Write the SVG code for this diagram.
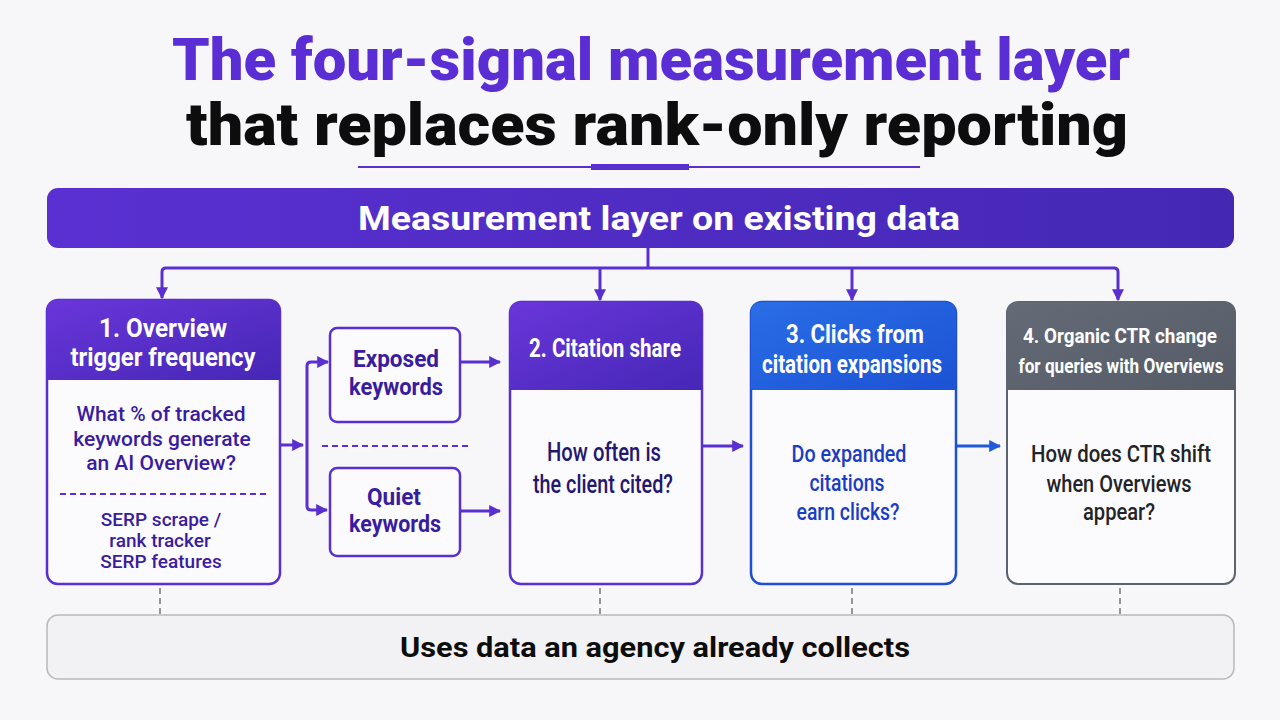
<svg xmlns="http://www.w3.org/2000/svg" width="1280" height="720" viewBox="0 0 1280 720">
<defs>
<linearGradient id="gPurple" x1="0" y1="0" x2="1" y2="1"><stop offset="0" stop-color="#6a36da"/><stop offset="1" stop-color="#4527b6"/></linearGradient>
<linearGradient id="gBanner" x1="0" y1="0" x2="1" y2="0"><stop offset="0" stop-color="#5a30d2"/><stop offset="1" stop-color="#4428b4"/></linearGradient>
<linearGradient id="gBlue" x1="0" y1="0" x2="1" y2="1"><stop offset="0" stop-color="#2a6ee6"/><stop offset="1" stop-color="#1c52d4"/></linearGradient>
<linearGradient id="gGray" x1="0" y1="0" x2="1" y2="1"><stop offset="0" stop-color="#646b77"/><stop offset="1" stop-color="#555c68"/></linearGradient>
<marker id="ap" viewBox="0 0 10 10" refX="9" refY="5" markerWidth="4" markerHeight="4" orient="auto" markerUnits="strokeWidth"><path d="M0,0 L10,5 L0,10 z" fill="#5a2fd0"/></marker>
<marker id="ab" viewBox="0 0 10 10" refX="9" refY="5" markerWidth="4" markerHeight="4" orient="auto" markerUnits="strokeWidth"><path d="M0,0 L10,5 L0,10 z" fill="#1f5ad8"/></marker>
</defs>
<style>
text{font-family:Roboto,"Liberation Sans",sans-serif;text-anchor:middle}
.t1{font-size:60px;font-weight:900;fill:#5a2ed4}
.t2{font-size:60px;font-weight:900;fill:#0d0d0d}
.hdr{font-size:26px;font-weight:700;fill:#ffffff}
.hdr4{font-size:21px;font-weight:700;fill:#ffffff}
.b1{font-size:21px;font-weight:500;fill:#3a1c9e}
.b1s{font-size:19px;font-weight:500;fill:#3a1c9e}
.kw{font-size:24px;font-weight:700;fill:#3a1c9e}
.b2{font-size:25px;font-weight:500;fill:#24186e}
.b3{font-size:24px;font-weight:500;fill:#1b3cc4}
.b4{font-size:24px;font-weight:500;fill:#222428}
.conn{fill:none;stroke:#5a2fd0;stroke-width:3}
.dash{fill:none;stroke:#5a2fd0;stroke-width:2;stroke-dasharray:6 4}
.gdash{fill:none;stroke:#777;stroke-width:1.5;stroke-dasharray:6 4}
</style>
<rect width="1280" height="720" fill="#f7f7f9"/>
<g id="title">
<text class="t1" x="651" y="80" textLength="958" lengthAdjust="spacingAndGlyphs">The four-signal measurement layer</text>
<text class="t2" x="657" y="145" textLength="942" lengthAdjust="spacingAndGlyphs">that replaces rank-only reporting</text>
<line x1="358" y1="167" x2="920" y2="167" stroke="#5a2fd0" stroke-width="2"/>
<rect x="591" y="164" width="98" height="6" fill="#5a2fd0"/>
</g>
<g id="banner">
<rect x="47" y="188" width="1187" height="60" rx="11" fill="url(#gBanner)"/>
<text x="659" y="230" font-size="34" font-weight="700" fill="#fff" textLength="602" lengthAdjust="spacingAndGlyphs">Measurement layer on existing data</text>
</g>
<g id="connectors">
<path class="conn" d="M648,248 V268"/>
<path class="conn" d="M600,268 H166 Q162,268 162,272 V298" marker-end="url(#ap)"/>
<path class="conn" d="M600,268 V300" marker-end="url(#ap)"/>
<path class="conn" d="M600,268 H1114 Q1118,268 1118,272 V300" marker-end="url(#ap)"/>
<path class="conn" d="M852,268 V300" marker-end="url(#ap)"/>
<path class="conn" d="M281,445 H303" marker-end="url(#ap)"/>
<path class="conn" d="M326,362 H311 Q307,362 307,366 V506 Q307,510 311,510 H327" marker-end="url(#ap)"/>
<path class="conn" d="M318,362 H328" marker-end="url(#ap)"/>
<path class="conn" d="M461,362 H500" marker-end="url(#ap)"/>
<path class="conn" d="M461,511 H500" marker-end="url(#ap)"/>
<path class="conn" d="M702,446 H743" marker-end="url(#ap)"/>
<path d="M956,446 H1000" fill="none" stroke="#1f5ad8" stroke-width="3" marker-end="url(#ab)"/>
<line class="dash" x1="322" y1="446" x2="472" y2="446"/>
<path class="gdash" d="M160,588 V614 M600,588 V614 M852,588 V614 M1120,588 V614"/>
</g>
<g id="node1">
<rect x="47" y="300" width="233" height="284" rx="11" fill="#fbfbfd" stroke="#5a2fd0" stroke-width="2.5"/>
<path d="M47,380 V311 Q47,300 58,300 H269 Q280,300 280,311 V380 Z" fill="url(#gPurple)"/>
<text class="hdr" x="163" y="337" textLength="128" lengthAdjust="spacingAndGlyphs">1. Overview</text>
<text class="hdr" x="163" y="366" textLength="185" lengthAdjust="spacingAndGlyphs">trigger frequency</text>
<text class="b1" x="161" y="421">What % of tracked</text>
<text class="b1" x="162" y="446">keywords generate</text>
<text class="b1" x="161" y="470">an AI Overview?</text>
<line class="dash" x1="60" y1="494" x2="267" y2="494"/>
<text class="b1s" x="161" y="526">SERP scrape /</text>
<text class="b1s" x="160" y="547">rank tracker</text>
<text class="b1s" x="161" y="568">SERP features</text>
</g>
<g id="exposed">
<rect x="330" y="328" width="130" height="94" rx="7" fill="#fbfbfd" stroke="#5a2fd0" stroke-width="2.5"/>
<text class="kw" x="396" y="367" textLength="86" lengthAdjust="spacingAndGlyphs">Exposed</text>
<text class="kw" x="396" y="395" textLength="94" lengthAdjust="spacingAndGlyphs">keywords</text>
</g>
<g id="quiet">
<rect x="330" y="468" width="130" height="88" rx="7" fill="#fbfbfd" stroke="#5a2fd0" stroke-width="2.5"/>
<text class="kw" x="394" y="505" textLength="54" lengthAdjust="spacingAndGlyphs">Quiet</text>
<text class="kw" x="395" y="532" textLength="92" lengthAdjust="spacingAndGlyphs">keywords</text>
</g>
<g id="node2">
<rect x="510" y="302" width="192" height="282" rx="11" fill="#fbfbfd" stroke="#5a2fd0" stroke-width="2.5"/>
<path d="M510,390 V313 Q510,302 521,302 H691 Q702,302 702,313 V390 Z" fill="url(#gPurple)"/>
<text class="hdr" x="605" y="357" textLength="152" lengthAdjust="spacingAndGlyphs">2. Citation share</text>
<text class="b2" x="604" y="461" textLength="114" lengthAdjust="spacingAndGlyphs">How often is</text>
<text class="b2" x="603" y="493" textLength="140" lengthAdjust="spacingAndGlyphs">the client cited?</text>
</g>
<g id="node3">
<rect x="751" y="302" width="205" height="282" rx="11" fill="#fbfbfd" stroke="#1f4fd0" stroke-width="2.5"/>
<path d="M751,390 V313 Q751,302 762,302 H945 Q956,302 956,313 V390 Z" fill="url(#gBlue)"/>
<text class="hdr" x="855" y="343" textLength="138" lengthAdjust="spacingAndGlyphs">3. Clicks from</text>
<text class="hdr" x="852" y="373" textLength="180" lengthAdjust="spacingAndGlyphs">citation expansions</text>
<text class="b3" x="849" y="462" textLength="115" lengthAdjust="spacingAndGlyphs">Do expanded</text>
<text class="b3" x="847" y="491" textLength="75" lengthAdjust="spacingAndGlyphs">citations</text>
<text class="b3" x="848" y="520" textLength="103" lengthAdjust="spacingAndGlyphs">earn clicks?</text>
</g>
<g id="node4">
<rect x="1007" y="302" width="228" height="282" rx="11" fill="#fbfbfd" stroke="#5c6370" stroke-width="2"/>
<path d="M1007,390 V313 Q1007,302 1018,302 H1224 Q1235,302 1235,313 V390 Z" fill="url(#gGray)"/>
<text class="hdr4" x="1120" y="343" textLength="194" lengthAdjust="spacingAndGlyphs">4. Organic CTR change</text>
<text class="hdr4" x="1121" y="373" textLength="205" lengthAdjust="spacingAndGlyphs">for queries with Overviews</text>
<text class="b4" x="1121" y="462" textLength="180" lengthAdjust="spacingAndGlyphs">How does CTR shift</text>
<text class="b4" x="1119" y="492" textLength="145" lengthAdjust="spacingAndGlyphs">when Overviews</text>
<text class="b4" x="1119" y="520" textLength="72" lengthAdjust="spacingAndGlyphs">appear?</text>
</g>
<g id="footer">
<rect x="47" y="615" width="1187" height="64" rx="11" fill="#f2f2f5" stroke="#b8b8be" stroke-width="1.5"/>
<text x="655" y="657" font-size="28" font-weight="700" fill="#0d0d0d" textLength="510" lengthAdjust="spacingAndGlyphs">Uses data an agency already collects</text>
</g>
</svg>
